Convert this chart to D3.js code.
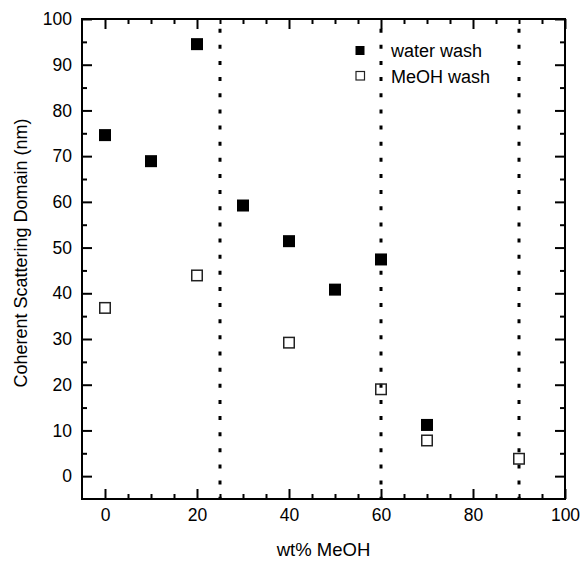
<!DOCTYPE html>
<html>
<head>
<meta charset="utf-8">
<script src="https://cdn.jsdelivr.net/npm/d3@7/dist/d3.min.js"></script>
<style>
  html, body { margin: 0; padding: 0; background: #fff; }
  svg text { font-family: "Liberation Sans", Arial, sans-serif; fill: #000; }
</style>
</head>
<body>
<svg id="chart" width="582" height="561"></svg>
<script>
// Coherent scattering domain vs. methanol content
const waterX = [0, 10, 20, 30, 40, 50, 60, 70];
const waterY = [74.6, 68.9, 94.5, 59.2, 51.4, 40.8, 47.4, 11.2];
const meohX = [0, 20, 40, 60, 70, 90];
const meohY = [36.8, 43.9, 29.2, 19.0, 7.8, 3.8];
const boundaries = [25, 60, 90];
const xTicks = [0, 20, 40, 60, 80, 100];
const yTicks = [0, 10, 20, 30, 40, 50, 60, 70, 80, 90, 100];
const seriesNames = ["water wash", "MeOH wash"];

const svg = d3.select("#chart");
const L = 82, R = 565, T = 19, B = 499;

const x = d3.scaleLinear().domain([-5, 100]).range([L, R]);
const y = d3.scaleLinear().domain([-5, 100]).range([B, T]);

const xMinor = d3.range(0, 101, 5).filter(v => v % 20 !== 0);
const yMinor = d3.range(-5, 101, 5).filter(v => v % 10 !== 0 && v > -5 && v < 100);

// vertical dotted boundaries
svg.append("g").selectAll("line").data(boundaries).join("line")
  .attr("x1", d => x(d)).attr("x2", d => x(d))
  .attr("y1", T).attr("y2", B)
  .attr("stroke", "#000").attr("stroke-width", 3)
  .attr("stroke-dasharray", "4,12.14")
  .attr("stroke-dashoffset", 6.44);

// axes with inward ticks on all four sides
function tickAxis(makeAxis, transform, major, minor, majorLen, minorLen, labels) {
  const gMinor = svg.append("g").attr("transform", transform)
    .call(makeAxis().tickValues(minor).tickSize(-minorLen).tickFormat(""));
  gMinor.select(".domain").remove();
  const g = svg.append("g").attr("transform", transform)
    .call(makeAxis().tickValues(major).tickSize(-majorLen)
      .tickPadding(labels ? 10 : 0)
      .tickFormat(labels ? d3.format("d") : ""));
  g.select(".domain").remove();
  g.selectAll(".tick line").attr("stroke-width", 2);
  gMinor.selectAll(".tick line").attr("stroke-width", 2);
  g.selectAll("text").attr("font-size", 17.5).attr("font-family", "Liberation Sans, Arial, sans-serif");
  return g;
}

tickAxis(() => d3.axisBottom(x), `translate(0,${B})`, xTicks, xMinor, 10, 5, true);
tickAxis(() => d3.axisTop(x), `translate(0,${T})`, xTicks, xMinor, 10, 5, false);
tickAxis(() => d3.axisLeft(y), `translate(${L},0)`, yTicks, yMinor, 10, 5, true);
tickAxis(() => d3.axisRight(y), `translate(${R},0)`, yTicks, yMinor, 10, 5, false);

svg.append("rect")
  .attr("x", L).attr("y", T).attr("width", R - L).attr("height", B - T)
  .attr("fill", "none").attr("stroke", "#000").attr("stroke-width", 2);

// data markers
const water = waterX.map((v, i) => ({ x: v, y: waterY[i] }));
const meoh = meohX.map((v, i) => ({ x: v, y: meohY[i] }));
const fs = 12, os = 10.5;

svg.append("g").selectAll("rect").data(water).join("rect")
  .attr("x", d => x(d.x) - fs / 2).attr("y", d => y(d.y) - fs / 2)
  .attr("width", fs).attr("height", fs).attr("fill", "#000");

svg.append("g").selectAll("rect").data(meoh).join("rect")
  .attr("x", d => x(d.x) - os / 2).attr("y", d => y(d.y) - os / 2)
  .attr("width", os).attr("height", os)
  .attr("fill", "none").attr("stroke", "#222").attr("stroke-width", 1.5);

// legend
const lg = svg.append("g");
lg.append("rect").attr("x", 355.5).attr("y", 46).attr("width", 9).attr("height", 9).attr("fill", "#000");
lg.append("rect").attr("x", 356).attr("y", 71.5).attr("width", 8.5).attr("height", 8.5)
  .attr("fill", "none").attr("stroke", "#222").attr("stroke-width", 1.2);
lg.selectAll("text").data(seriesNames).join("text")
  .attr("x", 391).attr("y", (d, i) => 57 + i * 25.5)
  .attr("font-size", 18).text(d => d);

// axis titles
svg.append("text").attr("x", (L + R) / 2).attr("y", 556)
  .attr("text-anchor", "middle").attr("font-size", 18.5).text("wt% MeOH");
svg.append("text")
  .attr("transform", "translate(26.5,253) rotate(-90)")
  .attr("text-anchor", "middle").attr("font-size", 18)
  .text("Coherent Scattering Domain (nm)");
</script>
</body>
</html>
